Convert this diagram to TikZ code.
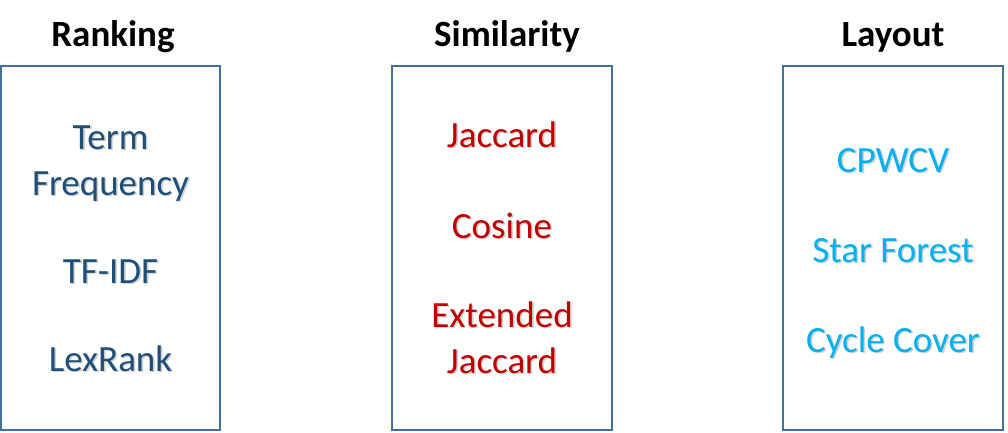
\documentclass[tikz,border=0pt]{standalone}
\usepackage{fontspec}
\setmainfont{Carlito}
\definecolor{boxline}{HTML}{41719C}
\definecolor{rankcol}{HTML}{1F4E79}
\definecolor{simcol}{HTML}{C00000}
\definecolor{laycol}{HTML}{00B0F0}
\tikzset{
  panel/.style={draw=boxline, line width=1.5pt},
  title/.style={anchor=base, font=\fontsize{37}{44}\selectfont\bfseries, text=black, inner sep=0pt},
  item/.style={anchor=base, font=\fontsize{37}{46}\selectfont, inner sep=0pt, align=center},
  shade/.style={item, text=black, opacity=0.18},
}
\newcommand{\itemtext}[4]{%
  \node[shade] at ([xshift=1.6pt,yshift=-1.6pt]#2) {#4};
  \node[item, text=#3] (#1) at (#2) {#4};
}
\begin{document}
\begin{tikzpicture}[x=1pt,y=-1pt]
\useasboundingbox (0,0) rectangle (1008,432);
% panels
\draw[panel] (1,66) rectangle (220,430);
\draw[panel] (392,66) rectangle (612,430);
\draw[panel] (783,66) rectangle (1003,430);
% titles
\node[title] (t1) at (113,46.5) {Ranking};
\node[title] (t2) at (507,46.5) {Similarity};
\node[title] (t3) at (893,46.5) {Layout};
% ranking
\itemtext{r1}{110.5,149}{rankcol}{Term}
\itemtext{r1b}{110.5,195}{rankcol}{Frequency}
\itemtext{r2}{110.5,283}{rankcol}{TF-IDF}
\itemtext{r3}{110.5,371}{rankcol}{LexRank}
% similarity
\itemtext{s1}{502,147}{simcol}{Jaccard}
\itemtext{s2}{502,238}{simcol}{Cosine}
\itemtext{s3}{502,327}{simcol}{Extended}
\itemtext{s3b}{502,373}{simcol}{Jaccard}
% layout
\itemtext{l1}{893,172}{laycol}{CPWCV}
\itemtext{l2}{893,262}{laycol}{Star Forest}
\itemtext{l3}{893,352}{laycol}{Cycle Cover}
\end{tikzpicture}
\end{document}
